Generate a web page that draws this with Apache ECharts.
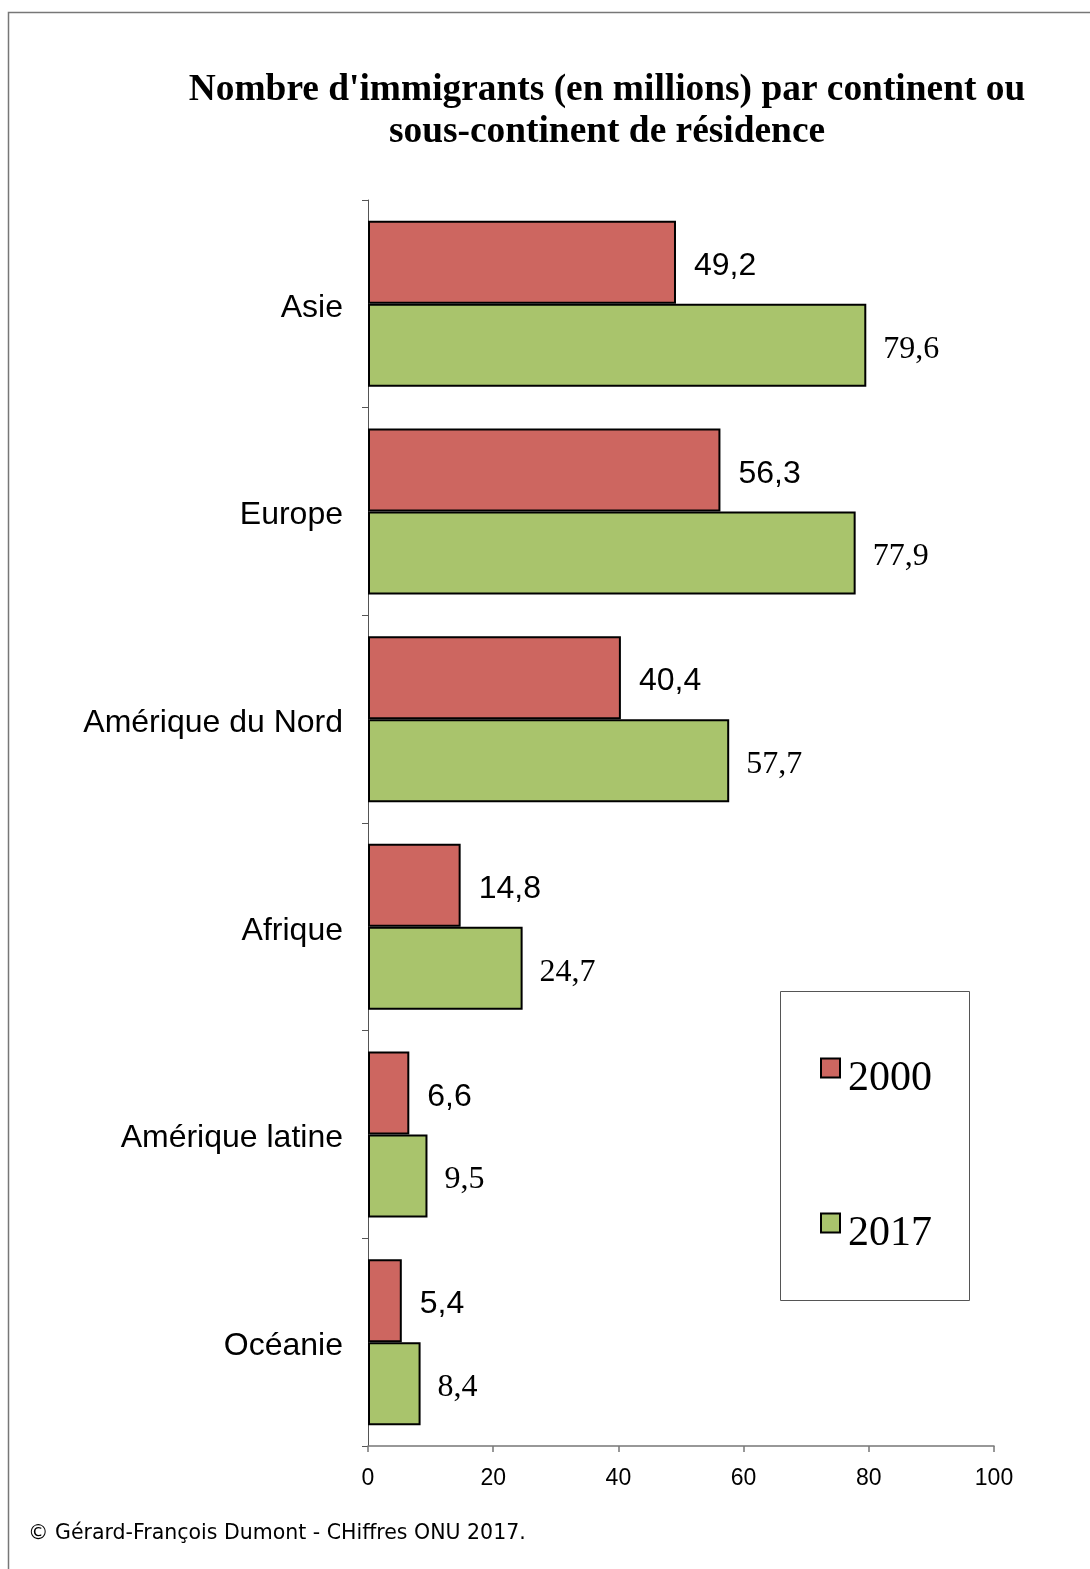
<!DOCTYPE html>
<html>
<head>
<meta charset="utf-8">
<style>
  html, body { margin: 0; padding: 0; background: #fff; }
  #chart { width: 1090px; height: 1569px; }
</style>
<script src="https://cdn.jsdelivr.net/npm/echarts@6/dist/echarts.min.js"></script>
</head>
<body>
<div id="chart"></div>
<script>
var continents = ['Asie', 'Europe', 'Amérique du Nord', 'Afrique', 'Amérique latine', 'Océanie'];
var values2000 = [49.2, 56.3, 40.4, 14.8, 6.6, 5.4];
var values2017 = [79.6, 77.9, 57.7, 24.7, 9.5, 8.4];
var xTicks = [0, 20, 40, 60, 80, 100];

var myChart = echarts.init(document.getElementById('chart'));

var serif = '"Liberation Serif", "Times New Roman", serif';
var sans = '"Liberation Sans", Arial, sans-serif';

function virgule(p) {
    return String(p.value).replace('.', ',');
}

var option = {
    backgroundColor: '#fff',
    animation: false,
    title: {
        text: "Nombre d'immigrants (en millions) par continent ou\nsous-continent de résidence",
        left: 602,
        textAlign: 'center',
        top: 64,
        textStyle: {
            fontFamily: serif,
            fontWeight: 'bold',
            fontSize: 37.4,
            lineHeight: 42,
            color: '#000'
        }
    },
    legend: {
        orient: 'vertical',
        left: 815,
        top: 1031,
        itemWidth: 19,
        itemHeight: 19,
        itemGap: 91,
        icon: 'rect',
        formatter: '{a|{name}}',
        textStyle: {
            color: '#000',
            rich: {
                a: {
                    fontFamily: serif,
                    fontSize: 42,
                    lineHeight: 42,
                    color: '#000',
                    padding: [22, 0, 0, 3]
                }
            }
        },
        data: ['2000', '2017']
    },
    grid: {
        left: 368,
        right: 96,
        top: 200,
        bottom: 123
    },
    xAxis: {
        type: 'value',
        min: 0,
        max: 100,
        interval: 20,
        splitLine: { show: false },
        axisLine: { show: true, lineStyle: { color: '#777', width: 1.5 } },
        axisTick: { show: true, length: 6, lineStyle: { color: '#777', width: 1.5 } },
        axisLabel: {
            margin: 21,
            fontFamily: sans,
            fontSize: 23,
            color: '#000',
            formatter: function (v) { return xTicks.indexOf(v) >= 0 ? String(v) : ''; }
        }
    },
    yAxis: {
        type: 'category',
        inverse: true,
        data: continents,
        axisLine: { show: true, lineStyle: { color: '#555', width: 1 } },
        axisTick: { show: true, length: 6, lineStyle: { color: '#555', width: 1 } },
        axisLabel: {
            margin: 25,
            formatter: '{c|{value}}',
            rich: {
                c: {
                    fontFamily: sans,
                    fontSize: 32,
                    color: '#000',
                    padding: [8, 0, 0, 0]
                }
            }
        }
    },
    series: [{
        name: '2000',
        type: 'bar',
        data: values2000,
        barWidth: 83,
        barGap: '0%',
        itemStyle: {
            color: '#CD6660',
            borderColor: '#000',
            borderWidth: 2
        },
        label: {
            show: true,
            position: 'right',
            distance: 18,
            offset: [0, 4],
            fontFamily: sans,
            fontSize: 32,
            color: '#000',
            formatter: virgule
        }
    }, {
        name: '2017',
        type: 'bar',
        data: values2017,
        barWidth: 83,
        barGap: '0%',
        itemStyle: {
            color: '#A9C46C',
            borderColor: '#000',
            borderWidth: 2
        },
        label: {
            show: true,
            position: 'right',
            distance: 17,
            offset: [0, 4],
            fontFamily: serif,
            fontSize: 32,
            color: '#000',
            formatter: virgule
        }
    }],
    graphic: [{
        type: 'rect',
        shape: { x: 8.5, y: 12.5, width: 1200, height: 1700 },
        style: { fill: 'none', stroke: '#777', lineWidth: 1.5 },
        z: -10
    }, {
        type: 'rect',
        shape: { x: 780.5, y: 991.5, width: 189, height: 309 },
        style: { fill: 'none', stroke: '#555', lineWidth: 1 },
        z: 5
    }, {
        type: 'text',
        left: 28,
        top: 1523,
        style: {
            text: '© Gérard-François Dumont - CHiffres ONU 2017.',
            fontFamily: '"DejaVu Sans", sans-serif',
            fontSize: 20.5,
            fill: '#000'
        }
    }]
};
myChart.setOption(option);
</script>
</body>
</html>
